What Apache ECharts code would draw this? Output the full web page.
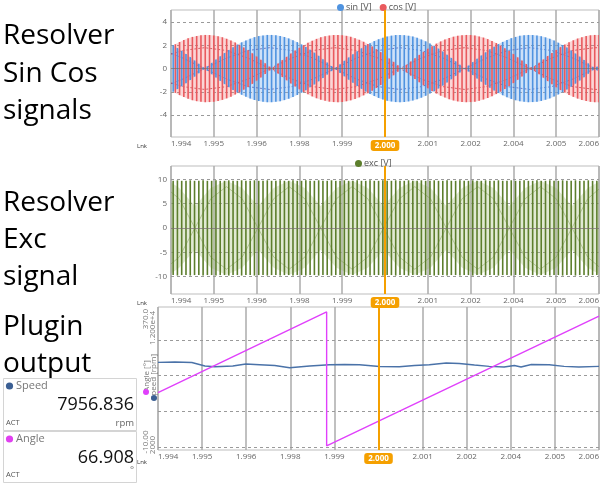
<!DOCTYPE html>
<html><head><meta charset="utf-8">
<script src="https://cdn.jsdelivr.net/npm/echarts@6/dist/echarts.min.js"></script>
<style>html,body{margin:0;padding:0;background:#fff}#c{width:602px;height:486px}</style>
</head><body><div id="c"></div><script>
// ---------- data ----------
const xTickLabels = ['1.994','1.995','1.996','1.998','1.999','2.000','2.001','2.002','2.004','2.005','2.006'];
const xMin = 1.99375, xMax = 2.00625, xStep = 0.00125;
const cursorTime = 2.000;
const barStart = 1.9938125, barStep = 0.000125;

const sinEnv = [2.00,1.77,1.53,1.26,0.99,0.70,0.41,0.11,0.19,0.49,
0.78,1.06,1.34,1.60,1.84,2.06,2.26,2.43,2.58,2.71,
2.80,2.86,2.90,2.90,2.87,2.81,2.72,2.60,2.45,2.28,
2.08,1.86,1.62,1.37,1.10,0.81,0.52,0.22,0.08,0.38,
0.67,0.96,1.23,1.50,1.75,1.98,2.19,2.37,2.53,2.66,
2.77,2.84,2.89,2.90,2.88,2.83,2.76,2.65,2.51,2.35,
2.16,1.95,1.72,1.47,1.20,0.92,0.63,0.34,0.04,0.26,
0.56,0.85,1.13,1.40,1.66,1.89,2.11,2.30,2.47,2.62,
2.73,2.82,2.87,2.90,2.89,2.86,2.79,2.69,2.57,2.41,
2.23,2.03,1.81,1.56,1.30,1.03,0.74,0.45,0.15,0.15];
const cosEnv = [2.10,2.29,2.46,2.61,2.73,2.81,2.87,2.90,2.89,2.86,
2.79,2.70,2.57,2.42,2.24,2.04,1.82,1.58,1.32,1.04,
0.76,0.46,0.17,0.13,0.43,0.73,1.01,1.29,1.55,1.79,
2.02,2.22,2.40,2.56,2.69,2.78,2.85,2.89,2.90,2.88,
2.82,2.74,2.62,2.48,2.31,2.12,1.91,1.67,1.42,1.15,
0.87,0.58,0.28,0.02,0.32,0.61,0.90,1.18,1.45,1.70,
1.93,2.15,2.34,2.50,2.64,2.75,2.83,2.88,2.90,2.89,
2.85,2.77,2.67,2.54,2.38,2.20,1.99,1.76,1.51,1.25,
0.97,0.69,0.39,0.09,0.21,0.50,0.79,1.08,1.35,1.61,
1.85,2.07,2.27,2.44,2.59,2.71,2.80,2.87,2.90,2.90];
const excEnv = [9.7,9.8,9.7,9.7,9.8,9.7,9.7,9.8,9.7,9.7,
9.8,9.7,9.7,9.8,9.7,9.7,9.8,9.7,9.7,9.8,
9.7,9.7,9.8,9.7,9.7,9.8,9.7,9.7,9.8,9.7,
9.7,9.8,9.7,9.7,9.8,9.7,9.7,9.8,9.7,9.7,
9.8,9.7,9.7,9.8,9.7,9.7,9.8,9.7,9.7,9.8,
9.7,9.7,9.8,9.7,9.7,9.8,9.7,9.7,9.8,9.7,
9.7,9.8,9.7,9.7,9.8,9.7,9.7,9.8,9.7,9.7,
9.8,9.7,9.7,9.8,9.7,9.7,9.8,9.7,9.7,9.8,
9.7,9.7,9.8,9.7,9.7,9.8,9.7,9.7,9.8,9.7,
9.7,9.8,9.7,9.7,9.8,9.7,9.7,9.8,9.7,9.7];

const innerTimes = [1.99375,1.99410,1.99473,1.99537,1.99600,1.99663,1.99727,1.99790,1.99853,1.99916,1.99980,
2.00043,2.00106,2.00170,2.00233,2.00296,2.00359,2.00423,2.00486,2.00549,2.00613,2.00625];
const sinInner = [1.31,0.9,0,0.9,1.56,1.8,1.56,0.9,0,0.9,1.56,1.8,1.56,0.9,0,0.9,1.56,1.8,1.56,0.9,0,0.18];
const cosInner = [1.24,1.56,1.8,1.56,0.9,0,0.9,1.56,1.8,1.56,0.9,0,0.9,1.56,1.8,1.56,0.9,0,0.9,1.56,1.8,1.79];

const excInnerTimes = [1.99375,1.99399,1.99445,1.99491,1.99537,1.99583,1.99629,1.99675,1.99720,1.99766,1.99812,
1.99858,1.99904,1.99950,1.99996,2.00042,2.00087,2.00133,2.00179,2.00225,2.00271,2.00317,2.00363,2.00409,
2.00454,2.00500,2.00546,2.00592,2.00625];
const excInner = [7.4,6.0,0,6.0,8.5,6.0,0,6.0,8.5,6.0,0,6.0,8.5,6.0,0,6.0,8.5,6.0,0,6.0,8.5,6.0,0,6.0,8.5,6.0,0,6.0,8.0];
const excBand = [9.4,8.2,4.5,8.2,9.7,8.2,4.5,8.2,9.7,8.2,4.5,8.2,9.7,8.2,4.5,8.2,9.7,8.2,4.5,8.2,9.7,8.2,4.5,8.2,9.7,8.2,4.5,8.2,9.5];

const speedTimes = [1.99375,1.99423,1.99471,1.99508,1.99536,1.99587,1.99624,1.99663,1.99706,1.99748,1.99805,
1.99861,1.99904,1.99946,2.00003,2.00059,2.00102,2.00144,2.00192,2.00229,2.00272,2.00314,2.00356,2.00385,
2.00404,2.00433,2.00484,2.00526,2.00568,2.00625];
const speedValues = [8162,8182,8149,7919,7873,7919,8050,8004,7952,7807,7919,
8004,8017,8004,7886,7873,7952,8004,8116,8083,7985,7899,7853,7952,
7853,8017,8004,7899,7853,7899];
const angleTimes = [1.99375,1.99853,1.99853,2.00625];
const angleValues = [135,350,-7,339];

const topTicks = [-4,-2,0,2,4];
const midTicks = [-10,-5,0,5,10];
const angleGridTicks = [-10,85,180,275];
const angleAxisLabels = ['370.0','-10.00'];
const speedAxisLabels = ['1.200e+4','2000'];
const speedNow = '7956.836', angleNow = '66.908';

// ---------- helpers ----------
const FONT = '"Open Sans", "Noto Sans", sans-serif';
const pts = (ts, vs, sign) => ts.map((t, i) => [t, sign * vs[i]]);
const barTimes = (n, off) => Array.from({length: n}, (_, i) => barStart + (i + off) * barStep);

function bars(name, env, off, gi, color, lw) {
  const ts = barTimes(env.length, off);
  return {
    name, type: 'custom', xAxisIndex: gi, yAxisIndex: gi, z: 3, clip: true, silent: true,
    itemStyle: {color}, encode: {x: 0, y: 1},
    data: env.map((a, i) => [ts[i], a]),
    renderItem: (p, api) => {
      const t = api.value(0), a = api.value(1);
      const p1 = api.coord([t, a]), p2 = api.coord([t, -a]);
      return {type: 'line', shape: {x1: p1[0], y1: p1[1], x2: p2[0], y2: p2[1]},
              style: {stroke: color, lineWidth: lw}};
    }
  };
}
function band(ts, env, sign, gi, color) {
  return {type: 'line', xAxisIndex: gi, yAxisIndex: gi, z: 1, symbol: 'none', silent: true,
    lineStyle: {width: 0}, areaStyle: {color: color, opacity: 1}, data: pts(ts, env, sign)};
}
function inner(ts, vs, sign, gi, color, dash, w) {
  return {type: 'line', xAxisIndex: gi, yAxisIndex: gi, z: 2, symbol: 'none', silent: true,
    lineStyle: {color, width: w, type: dash}, data: pts(ts, vs, sign)};
}
function gridLines(ticks, gi, yi, zeroSolid) {
  return {type: 'line', xAxisIndex: gi, yAxisIndex: yi, z: 0, symbol: 'none', silent: true,
    lineStyle: {width: 0}, data: [[xMin, ticks[0]]],
    markLine: {silent: true, symbol: 'none', z: 0, animation: false, label: {show: false},
      data: ticks.filter(v => !(zeroSolid && v === 0)).map(v => ({yAxis: v,
        lineStyle: {color: '#9a9a9a', type: [3, 3], width: 1}}))}};
}
function zeroLine(gi) {
  return {type: 'line', xAxisIndex: gi, yAxisIndex: gi, z: 4, symbol: 'none', silent: true,
    lineStyle: {width: 0}, data: [[xMin, 0]],
    markLine: {silent: true, symbol: 'none', z: 4, animation: false, label: {show: false},
      data: [{yAxis: 0, lineStyle: {color: 'rgba(120,110,110,0.7)', type: 'solid', width: 1.2}}]}};
}
function cursor(gi, yi) {
  return {type: 'line', xAxisIndex: gi, yAxisIndex: yi, z: 10, symbol: 'none', silent: true,
    lineStyle: {width: 0}, data: [[cursorTime, null]],
    markLine: {silent: true, symbol: 'none', z: 10, animation: false, label: {show: false},
      lineStyle: {color: '#f5a000', width: 2, type: 'solid'}, data: [{xAxis: cursorTime}]}};
}
function xAxisFor(gi) {
  return {type: 'value', gridIndex: gi, min: xMin, max: xMax, interval: xStep,
    axisLine: {show: false}, axisTick: {show: false},
    splitLine: {show: true, lineStyle: {color: '#ababab', width: 1.5}},
    axisLabel: {fontSize: 8, color: '#666', margin: 3, fontFamily: FONT,
      alignMinLabel: 'left', alignMaxLabel: 'right',
      formatter: v => {
        const i = Math.round((v - xMin) / xStep);
        const s = xTickLabels[i] || '';
        return Math.abs(v - cursorTime) < 1e-7 ? '{cur|' + s + '}' : s;
      },
      rich: {cur: {backgroundColor: '#f5a000', color: '#fff', fontWeight: 'bold', fontSize: 8,
        borderRadius: 3, padding: [2, 4, 1, 4], fontFamily: FONT}}}};
}

const C_SIN = '#4f93e0', C_COS = '#e95a5e', C_EXC = '#5c7e2c';
const C_ANGLE = '#e040fb', C_SPEED = '#4a72a8';

const series = [
  gridLines(topTicks, 0, 0, true),
  band(barTimes(100, 0), sinEnv, 1, 0, 'rgba(120,172,235,0.36)'),
  band(barTimes(100, 0), sinEnv, -1, 0, 'rgba(120,172,235,0.36)'),
  band(barTimes(100, 0.5), cosEnv, 1, 0, 'rgba(242,120,120,0.30)'),
  band(barTimes(100, 0.5), cosEnv, -1, 0, 'rgba(242,120,120,0.30)'),
  inner(innerTimes, sinInner, 1, 0, 'rgba(90,96,176,0.8)', [2, 2], 1),
  inner(innerTimes, sinInner, -1, 0, 'rgba(90,96,176,0.8)', [2, 2], 1),
  inner(innerTimes, cosInner, 1, 0, 'rgba(196,66,76,0.8)', [2, 2], 1),
  inner(innerTimes, cosInner, -1, 0, 'rgba(196,66,76,0.8)', [2, 2], 1),
  bars('sin [V]', sinEnv, 0, 0, C_SIN, 1.6),
  bars('cos [V]', cosEnv, 0.5, 0, C_COS, 1.6),
  zeroLine(0),
  cursor(0, 0),

  gridLines(midTicks, 1, 1, true),
  band(excInnerTimes, excBand, 1, 1, 'rgba(155,185,110,0.30)'),
  band(excInnerTimes, excBand, -1, 1, 'rgba(155,185,110,0.30)'),
  inner(excInnerTimes, excInner, 1, 1, 'rgba(120,150,70,0.45)', 'solid', 1),
  inner(excInnerTimes, excInner, -1, 1, 'rgba(120,150,70,0.45)', 'solid', 1),
  bars('exc [V]', excEnv, 0, 1, C_EXC, 1.6),
  zeroLine(1),
  cursor(1, 1),

  gridLines(angleGridTicks, 2, 2, false),
  {name: 'Speed [rpm]', type: 'line', xAxisIndex: 2, yAxisIndex: 3, z: 3, symbol: 'none', silent: true,
   lineStyle: {color: C_SPEED, width: 1.4}, data: pts(speedTimes, speedValues, 1)},
  {name: 'Angle [°]', type: 'line', xAxisIndex: 2, yAxisIndex: 2, z: 4, symbol: 'none', silent: true,
   lineStyle: {color: C_ANGLE, width: 1.4}, data: pts(angleTimes, angleValues, 1)},
  cursor(2, 2)
];

const legendBase = {icon: 'circle', itemWidth: 7, itemHeight: 7, itemGap: 8, padding: 2,
  textStyle: {fontSize: 9, color: '#555', fontFamily: FONT, padding: [0, 0, 0, -3]}, selectedMode: false};

// ---------- graphics (left panel, widgets, rotated labels) ----------
const bigFont = '28px ' + FONT;
const leftLines = [['Resolver', 36], ['Sin Cos', 74], ['signals', 111],
                   ['Resolver', 203], ['Exc', 240], ['signal', 277],
                   ['Plugin', 327], ['output', 364]];
const graphic = [];
leftLines.forEach(([t, y]) => graphic.push({type: 'text', x: 3, y, z: 50, silent: true,
  style: {text: t, font: bigFont, fill: '#000', verticalAlign: 'middle', align: 'left'}}));
function widget(y0, h, color, title, value, unit, valueY, unitY) {
  graphic.push({type: 'rect', z: 60, silent: true, shape: {x: 3.5, y: y0 + 0.5, width: 133, height: h},
    style: {fill: '#fff', stroke: '#d4d4d4', lineWidth: 1}});
  graphic.push({type: 'circle', z: 61, silent: true, shape: {cx: 9.5, cy: y0 + 8, r: 3.6}, style: {fill: color}});
  graphic.push({type: 'text', z: 61, silent: true, x: 16, y: y0 + 8,
    style: {text: title, font: '11px ' + FONT, fill: '#777', verticalAlign: 'middle'}});
  graphic.push({type: 'text', z: 61, silent: true, x: 134, y: valueY,
    style: {text: value, font: '18px ' + FONT, fill: '#111', verticalAlign: 'middle', align: 'right'}});
  graphic.push({type: 'text', z: 61, silent: true, x: 6, y: y0 + h - 7,
    style: {text: 'ACT', font: '7.5px ' + FONT, fill: '#555', verticalAlign: 'middle'}});
  graphic.push({type: 'text', z: 61, silent: true, x: 134, y: unitY,
    style: {text: unit, font: '9.5px ' + FONT, fill: '#666', verticalAlign: 'middle', align: 'right'}});
}
widget(378, 52, '#3b5f93', 'Speed', speedNow, 'rpm', 405, 423);
widget(431, 51, '#e040f0', 'Angle', angleNow, '°', 458, 470);
[146, 303, 462].forEach(y => graphic.push({type: 'text', x: 137, y, z: 50, silent: true,
  style: {text: 'Lnk', font: '6px ' + FONT, fill: '#333', verticalAlign: 'middle'}}));
function rot(text, x, y, color, size) {
  graphic.push({type: 'text', x, y, rotation: Math.PI / 2, z: 50, silent: true,
    style: {text, font: size + 'px ' + FONT, fill: color, align: 'center', verticalAlign: 'middle'}});
}
rot(angleAxisLabels[0], 146, 319, '#777', 8);
rot(speedAxisLabels[0], 153, 328, '#777', 8);
rot(angleAxisLabels[1], 146, 442, '#777', 8);
rot(speedAxisLabels[1], 153, 445, '#777', 8);
rot('Angle [°]', 147, 376, '#777', 8);
rot('Speed [rpm]', 154, 377, '#777', 8);
graphic.push({type: 'circle', z: 51, silent: true, shape: {cx: 146, cy: 392, r: 3}, style: {fill: C_ANGLE}});
graphic.push({type: 'circle', z: 51, silent: true, shape: {cx: 154, cy: 398, r: 3}, style: {fill: '#3b5f93'}});

const option = {
  animation: false,
  backgroundColor: '#fff',
  textStyle: {fontFamily: FONT},
  grid: [
    {left: 171, right: 2, top: 10, height: 127, show: true, borderColor: '#bdbdbd', borderWidth: 1},
    {left: 171, right: 2, top: 166, height: 128, show: true, borderColor: '#bdbdbd', borderWidth: 1},
    {left: 158, right: 2, top: 307, height: 143, show: true, borderColor: '#bdbdbd', borderWidth: 1}
  ],
  legend: [
    Object.assign({}, legendBase, {data: ['sin [V]', 'cos [V]'], left: 335, top: 1}),
    Object.assign({}, legendBase, {data: ['exc [V]'], left: 353, top: 157})
  ],
  xAxis: [xAxisFor(0), xAxisFor(1), xAxisFor(2)],
  yAxis: [
    {type: 'value', gridIndex: 0, min: -5.9, max: 5.05, axisLine: {show: false}, axisTick: {show: false},
     splitLine: {show: false}, axisLabel: {customValues: topTicks, fontSize: 8, color: '#666', margin: 4, fontFamily: FONT}},
    {type: 'value', gridIndex: 1, min: -13.6, max: 12.75, axisLine: {show: false}, axisTick: {show: false},
     splitLine: {show: false}, axisLabel: {customValues: midTicks, fontSize: 8, color: '#666', margin: 4, fontFamily: FONT}},
    {type: 'value', gridIndex: 2, min: -18, max: 363, show: false, splitLine: {show: false}},
    {type: 'value', gridIndex: 2, min: 2400, max: 11800, show: false, splitLine: {show: false}}
  ],
  series,
  graphic
};
const chart = echarts.init(document.getElementById('c'));
chart.setOption(option);
</script></body></html>
